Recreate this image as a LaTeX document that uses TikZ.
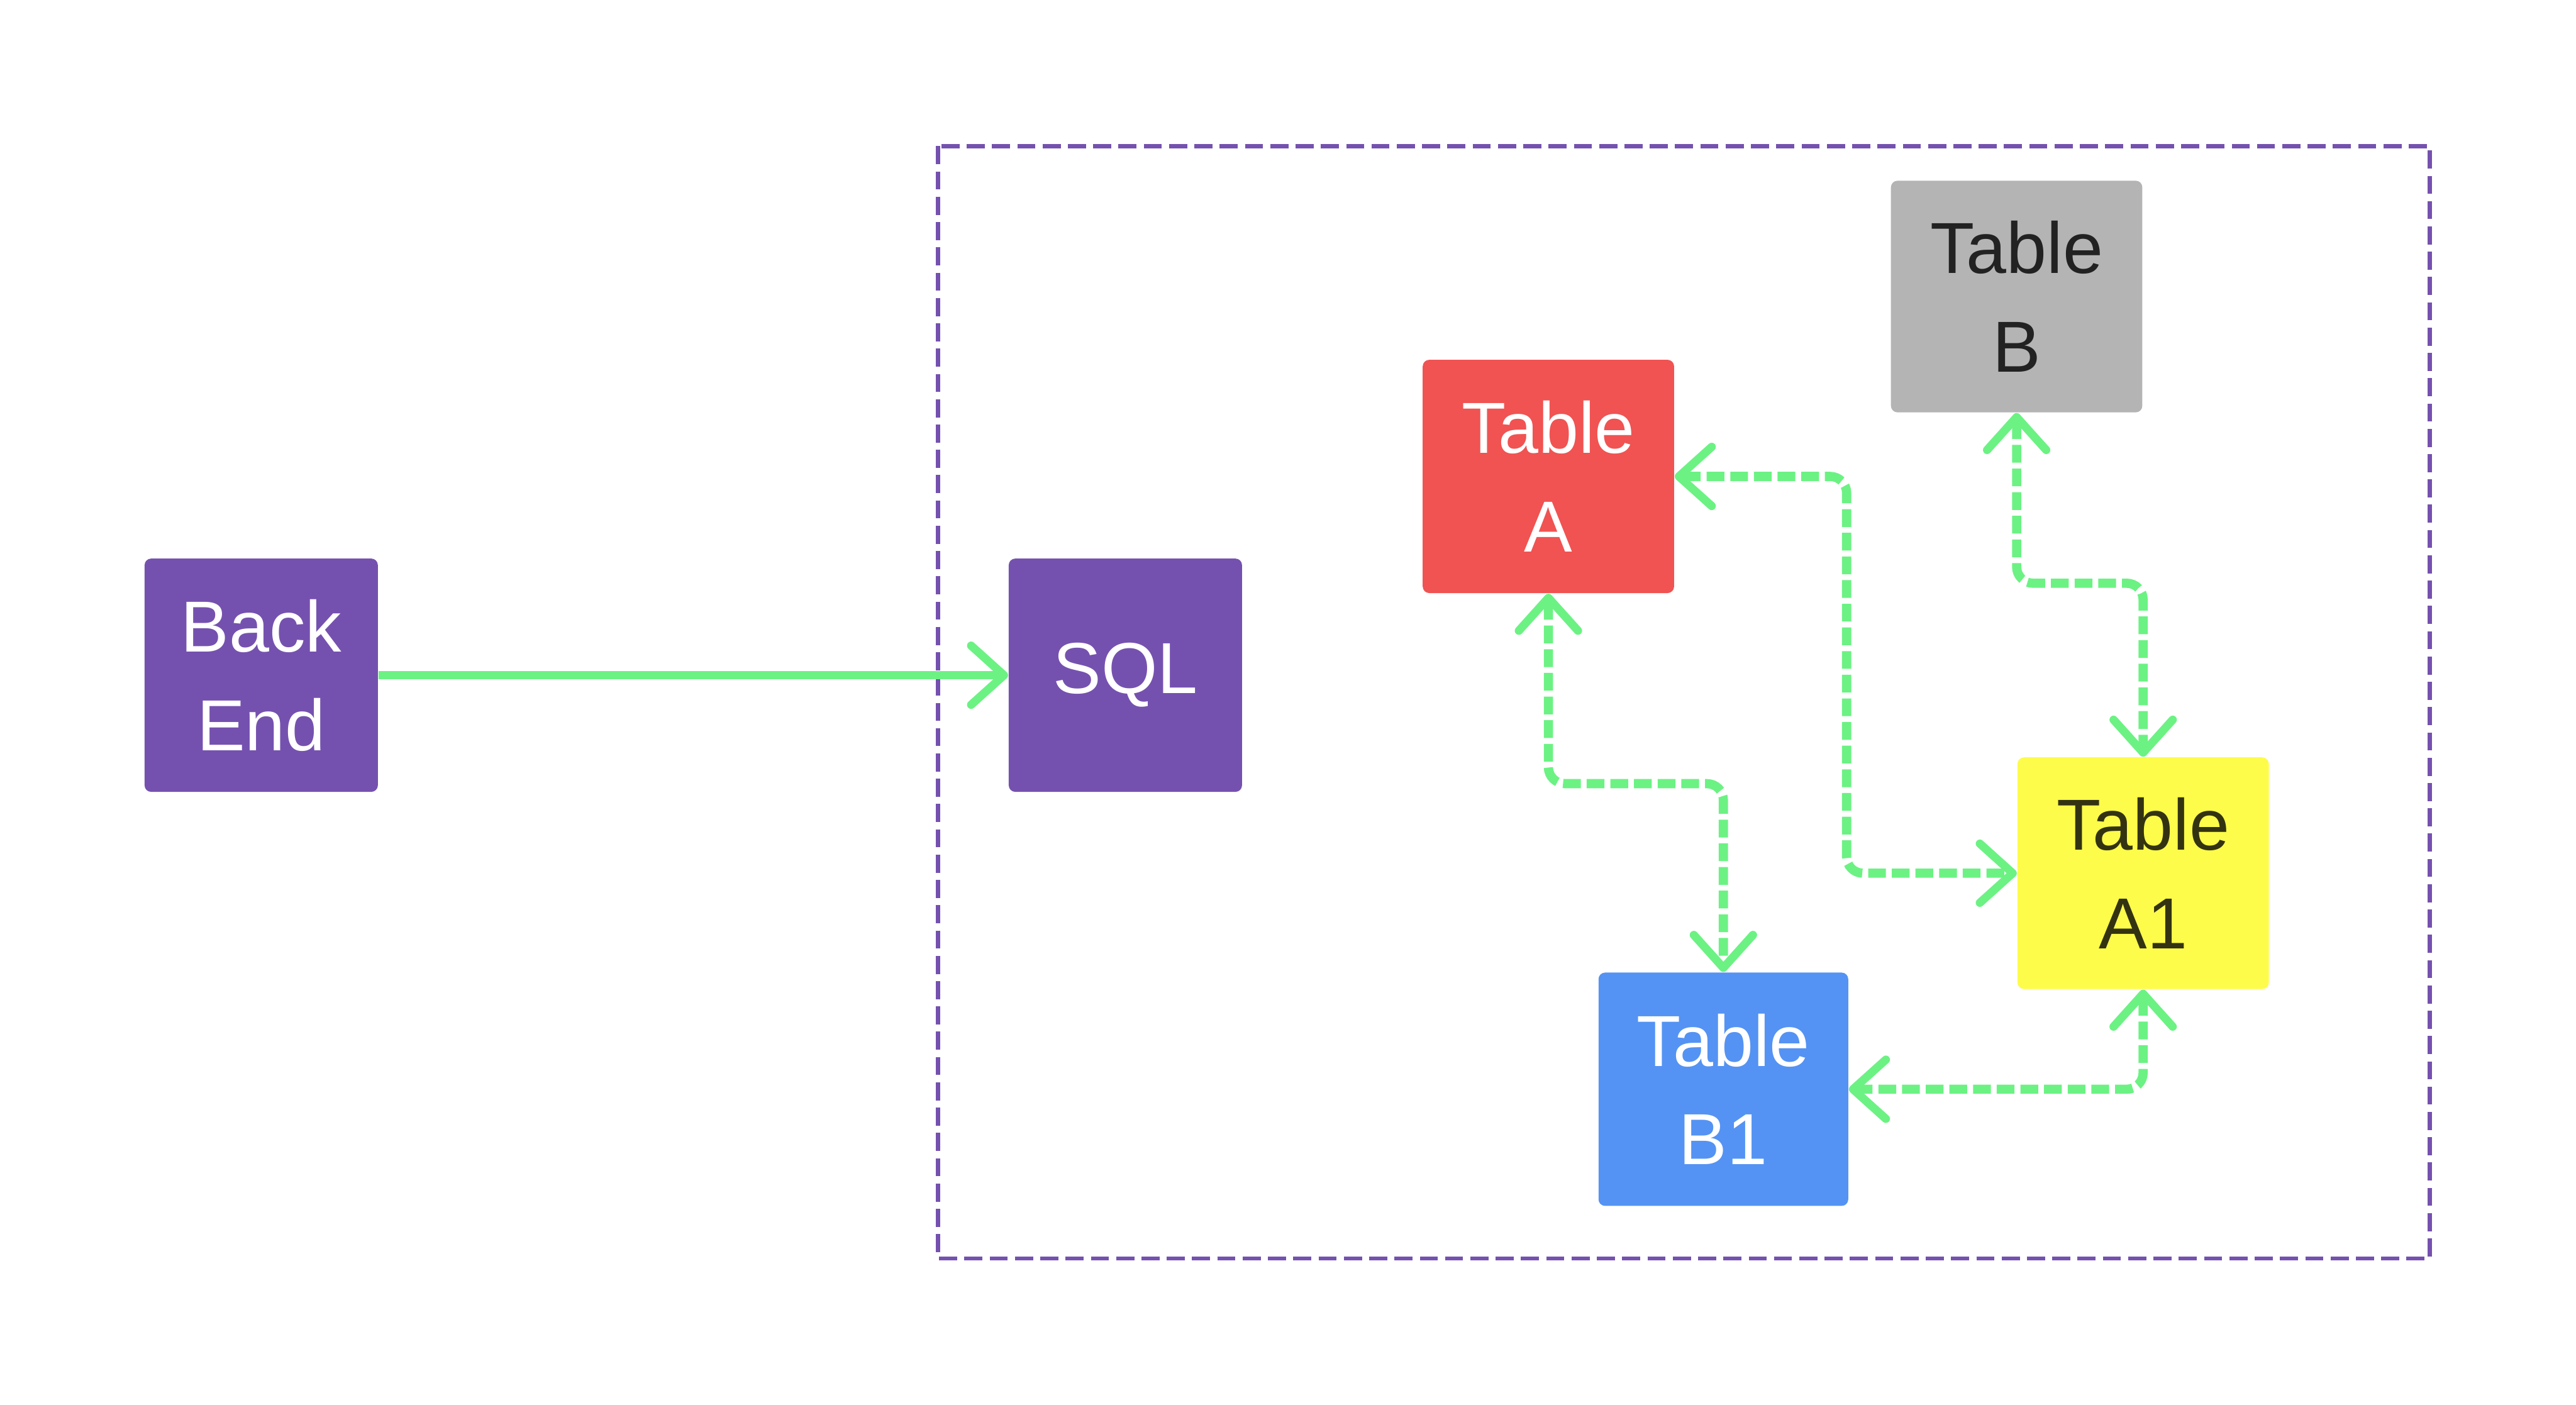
\documentclass[tikz,border=0pt]{standalone}
\usepackage{fontspec}
\setmainfont{Liberation Sans}
\usetikzlibrary{arrows.meta}
\definecolor{cpurple}{HTML}{7551AF}
\definecolor{cred}{HTML}{F05352}
\definecolor{cgray}{HTML}{B4B4B4}
\definecolor{cyellow}{HTML}{FDFC4A}
\definecolor{cblue}{HTML}{5493F3}
\definecolor{cgreen}{HTML}{6BF283}
\definecolor{cdark}{HTML}{222222}
\definecolor{colive}{HTML}{333311}
\tikzset{
  box/.style={rectangle, rounded corners=2pt, inner sep=0pt, align=center,
    font=\fontsize{22}{30}\selectfont, text=white},
  conn/.style={draw=cgreen, line width=2.5pt,
    arrows={-Straight Barb[length=10pt,width=18pt,round]}},
  dconn/.style={conn, line width=2.8pt, dash pattern=on 5.4pt off 1.8pt, rounded corners=5pt,
    arrows={Straight Barb[length=10pt,width=18pt,round,line width=2.5pt]-Straight Barb[length=10pt,width=18pt,round,line width=2.5pt]}},
  frame/.style={draw=cpurple, line width=1.3pt, dash pattern=on 5.5pt off 2.2pt}
}
\begin{document}
\begin{tikzpicture}[x=0.5pt,y=-0.5pt]
\useasboundingbox (0,0) rectangle (1568,855);
\draw[frame] (571,89) rectangle (1479,766);
\node[box, fill=cpurple, minimum width=71pt, minimum height=71pt] (back) at (159,411) {Back\\End};
\node[box, fill=cpurple, minimum width=71pt, minimum height=71pt] (sql) at (685,411) {SQL};
\node[box, fill=cred, minimum width=76.5pt, minimum height=71pt] (ta) at (942.5,290) {Table\\A};
\node[box, fill=cgray, text=cdark, minimum width=76.5pt, minimum height=70.5pt] (tb) at (1227.5,180.5) {Table\\B};
\node[box, fill=cyellow, text=colive, minimum width=76.5pt, minimum height=70.5pt] (ta1) at (1304.5,531.5) {Table\\A1};
\node[box, fill=cblue, minimum width=76pt, minimum height=71pt] (tb1) at (1049,663) {Table\\B1};
\coordinate (r1) at (1000,477);
\coordinate (r2) at (1124,400);
\coordinate (r3) at (1260,355);
\draw[conn] (back.east) -- (sql.west);
\draw[dconn] (ta.south) -- (ta.south |- r1) -- (tb1.north |- r1) -- (tb1.north);
\draw[dconn] (ta.east) -- (ta.east -| r2) -- (r2 |- ta1.west) -- (ta1.west);
\draw[dconn] (tb.south) -- (tb.south |- r3) -- (ta1.north |- r3) -- (ta1.north);
\draw[dconn] (ta1.south) -- (ta1.south |- tb1.east) -- (tb1.east);
\end{tikzpicture}
\end{document}
